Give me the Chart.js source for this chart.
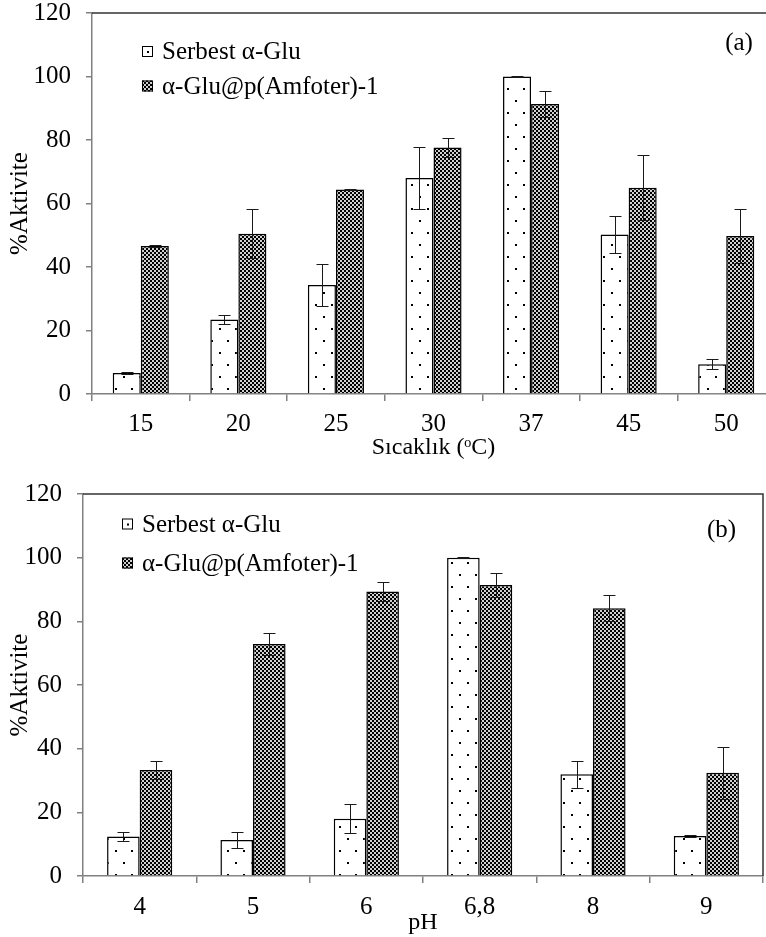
<!DOCTYPE html>
<html lang="tr">
<head>
  <meta charset="UTF-8" />
  <title>Aktivite - Sıcaklık ve pH</title>
  <style>
    html, body { margin: 0; padding: 0; background: #fff; overflow: hidden; }
    body { width: 766px; height: 937px; position: relative; }
    #chartA { position: absolute; left: 0; top: 0; }
    #chartB { position: absolute; left: 0; top: 462px; }
  </style>
</head>
<body>

  <canvas id="chartA" width="800" height="462"></canvas>
  <canvas id="chartB" width="766" height="475"></canvas>

  <script src="https://cdn.jsdelivr.net/npm/chart.js"></script>

  <script>
    // veriler
    const seriesNames = ["Serbest α-Glu", "α-Glu@p(Amfoter)-1"];

    const tempLabels   = ["15", "20", "25", "30", "37", "45", "50"];
    const tempFree     = [6.6, 23.5, 34.3, 68.0, 100, 50.2, 9.4];
    const tempFreeErr  = [0.2, 1.3, 6.5, 9.8, 0.2, 5.9, 1.5];
    const tempImmob    = [46.6, 50.5, 64.4, 77.6, 91.3, 65.0, 49.8];
    const tempImmobErr = [0.4, 7.7, 0.3, 3.0, 4.2, 10.3, 8.4];

    const phLabels     = ["4", "5", "6", "6,8", "8", "9"];
    const phFree       = [12.4, 11.3, 18.0, 100, 32.0, 12.6];
    const phFreeErr    = [1.3, 2.5, 4.6, 0.2, 4.2, 0.3];
    const phImmob      = [33.3, 72.9, 89.4, 91.4, 84.1, 32.4];
    const phImmobErr   = [2.7, 3.5, 3.0, 3.8, 4.1, 8.1];

    const yMin = 0, yMax = 120, yStep = 20;

    const FONT = "'Liberation Serif', 'Times New Roman', serif";
    const AXIS_GRAY = "#808080";

    // desenler
    function dotPattern() {
      const c = document.createElement("canvas");
      c.width = 16; c.height = 24;
      const g = c.getContext("2d");
      g.fillStyle = "#fff"; g.fillRect(0, 0, 16, 24);
      g.fillStyle = "#000";
      g.fillRect(3, 4, 2, 2);
      g.fillRect(11, 16, 2, 2);
      return g.createPattern(c, "repeat");
    }
    function checkerPattern() {
      const c = document.createElement("canvas");
      c.width = 4; c.height = 4;
      const g = c.getContext("2d");
      g.fillStyle = "#000"; g.fillRect(0, 0, 4, 4);
      g.fillStyle = "#d0d0d0";
      g.fillRect(0, 0, 2, 2);
      g.fillRect(2, 2, 2, 2);
      return g.createPattern(c, "repeat");
    }
    const dots = dotPattern();
    const checks = checkerPattern();

    // hata çubukları, çerçeve, gösterge, panel etiketi
    const extras = {
      id: "extras",
      afterDatasetsDraw(chart, args, opts) {
        const { ctx, chartArea: a, scales: { y } } = chart;
        ctx.save();

        // hata çubukları
        ctx.strokeStyle = "#1a1a1a";
        ctx.lineWidth = 1;
        chart.data.datasets.forEach((ds, di) => {
          const meta = chart.getDatasetMeta(di);
          meta.data.forEach((bar, i) => {
            const v = ds.data[i], e = ds.errors[i];
            const x = Math.round(bar.x) + 0.5;
            const yHi = Math.round(y.getPixelForValue(v + e)) + 0.5;
            const yLo = Math.round(y.getPixelForValue(v - e)) + 0.5;
            ctx.beginPath();
            ctx.moveTo(x, yHi); ctx.lineTo(x, yLo);
            ctx.moveTo(x - 6, yHi); ctx.lineTo(x + 6, yHi);
            ctx.moveTo(x - 6, yLo); ctx.lineTo(x + 6, yLo);
            ctx.stroke();
          });
        });

        // üst ve sağ çerçeve
        ctx.strokeStyle = "#333";
        ctx.lineWidth = 1.5;
        ctx.beginPath();
        ctx.moveTo(a.left, a.top);
        ctx.lineTo(a.right, a.top);
        ctx.lineTo(a.right, a.bottom);
        ctx.stroke();

        // gösterge
        ctx.font = "25px " + FONT;
        ctx.textBaseline = "middle";
        ctx.textAlign = "left";
        chart.data.datasets.forEach((ds, di) => {
          const bx = a.left + opts.legendX;
          const cy = a.top + opts.legendY + di * opts.legendGap;
          ctx.fillStyle = di === 0 ? "#fff" : checks;
          ctx.fillRect(bx, cy - 5.5, 11, 11);
          if (di === 0) {
            ctx.fillStyle = "#000";
            ctx.fillRect(bx + 5, cy - 0.5, 2, 2);
          }
          ctx.strokeStyle = "#000";
          ctx.lineWidth = 1;
          ctx.strokeRect(bx + 0.5, cy - 5, 10, 10);
          ctx.fillStyle = "#000";
          ctx.fillText(ds.label, bx + 20, cy + 1);
        });

        // panel etiketi
        ctx.textAlign = "center";
        ctx.fillText(opts.panel, a.right - opts.panelX, a.top + opts.panelY);

        ctx.restore();
      }
    };

    function makeChart(id, labels, free, freeErr, immob, immobErr, xTitle, dims) {
      return new Chart(document.getElementById(id), {
        type: "bar",
        data: {
          labels,
          datasets: [
            { label: seriesNames[0], data: free, errors: freeErr, backgroundColor: dots,
              borderColor: "#000", borderWidth: 1.5, categoryPercentage: 0.575, barPercentage: 1 },
            { label: seriesNames[1], data: immob, errors: immobErr, backgroundColor: checks,
              borderColor: "#000", borderWidth: 1.5, categoryPercentage: 0.575, barPercentage: 1 }
          ]
        },
        options: {
          responsive: false,
          animation: false,
          layout: { autoPadding: false, padding: dims.padding },
          plugins: {
            legend: { display: false },
            tooltip: { enabled: false },
            extras: dims.extras
          },
          scales: {
            x: {
              ticks: { color: "#000", font: { family: FONT, size: 25 }, padding: dims.xTickPad },
              grid: { drawOnChartArea: false, tickLength: 7, color: AXIS_GRAY, lineWidth: 1.5 },
              border: { color: AXIS_GRAY, width: 1.5 },
              title: { display: true, text: xTitle, color: "#000", font: { family: FONT, size: 24 },
                       padding: { top: 0, bottom: 0 } },
              afterFit(s) { s.height = dims.xHeight; s.paddingLeft = 0; s.paddingRight = 0; }
            },
            y: {
              min: yMin, max: yMax,
              ticks: { stepSize: yStep, color: "#000", font: { family: FONT, size: 25 }, padding: 15 },
              grid: { drawOnChartArea: false, tickLength: 6, color: AXIS_GRAY, lineWidth: 1.5 },
              border: { color: AXIS_GRAY, width: 1.5 },
              title: { display: true, text: "%Aktivite", color: "#000", font: { family: FONT, size: 25 },
                       padding: { top: 5, bottom: 0 } },
              afterFit(s) { s.width = dims.yWidth; s.paddingTop = 0; s.paddingBottom = 0; }
            }
          }
        },
        plugins: [extras]
      });
    }

    makeChart("chartA", tempLabels, tempFree, tempFreeErr, tempImmob, tempImmobErr, "Sıcaklık (ᵒC)", {
      padding: { top: 13, right: 25, bottom: 0, left: 0 },
      xHeight: 68, yWidth: 92, xTickPad: 8,
      extras: { legendX: 50, legendY: 38.5, legendGap: 34.5, panel: "(a)", panelX: 36, panelY: 30 }
    });

    makeChart("chartB", phLabels, phFree, phFreeErr, phImmob, phImmobErr, "pH", {
      padding: { top: 32, right: 3, bottom: 0, left: 0 },
      xHeight: 61, yWidth: 83, xTickPad: 9,
      extras: { legendX: 39, legendY: 30, legendGap: 39, panel: "(b)", panelX: 41.5, panelY: 36 }
    });
  </script>

</body>
</html>
